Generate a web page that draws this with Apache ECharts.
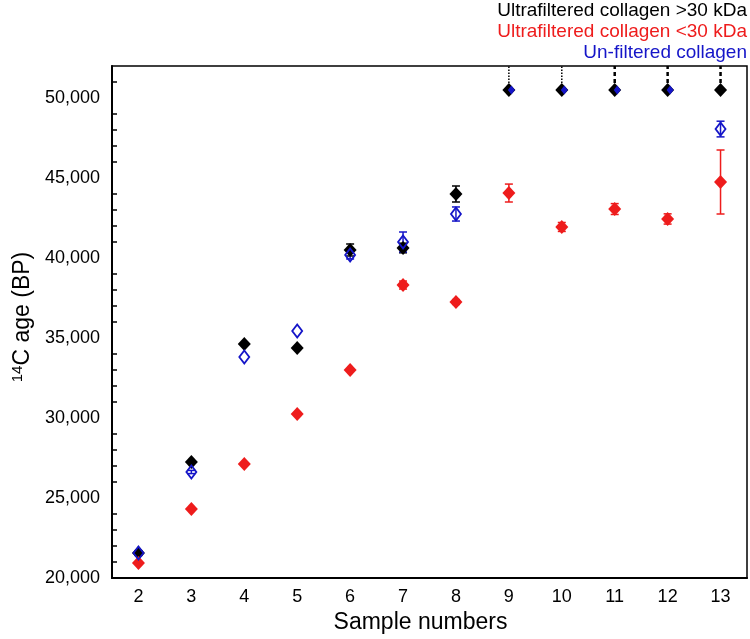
<!DOCTYPE html>
<html>
<head>
<meta charset="utf-8">
<script src="https://cdn.jsdelivr.net/npm/echarts@6/dist/echarts.min.js"></script>
<style>
  html, body { margin: 0; padding: 0; background: #fff; }
  #chart { width: 750px; height: 639px; }
</style>
</head>
<body>
<div id="chart"></div>
<script>
// sample numbers on the x axis
const samples = ["2", "3", "4", "5", "6", "7", "8", "9", "10", "11", "12", "13"];

// 14C ages (BP), null = no point
const over30 = [21560, 27250, 34625, 34375, 40500, 40625, 44000, null, null, null, null, null];
const over30Err = [0, 0, 0, 0, 375, 300, 500, 0, 0, 0, 0, 0];
const under30 = [20940, 24310, 27125, 30250, 33000, 38310, 37250, 44060, 41940, 43060, 42440, 44750];
const under30Err = [0, 0, 0, 0, 0, 250, 150, 560, 280, 340, 320, 2000];
const unfiltered = [21560, 26625, 33812, 35440, 40190, 41000, 42750, null, null, null, null, 48060];
const unfilteredErr = [150, 100, 0, 0, 250, 625, 440, 0, 0, 0, 0, 490];

// samples beyond the dating limit (drawn at the limit with a line up)
const limitAge = 50500;
const over30Limit = ["9", "10", "11", "12", "13"];
const unfilteredLimit = ["9", "10", "11", "12"];
const limitDotted = ["9", "10"];
const limitDashed = ["11", "12", "13"];

const yTicks = { min: 20000, max: 52000, step: 5000 };

const BLACK = "#000000";
const RED = "#ee1c1c";
const BLUE = "#1515c8";
const FONT = "Arial, 'Liberation Sans', sans-serif";

const chart = echarts.init(document.getElementById("chart"));

const points = vals => samples.map((s, i) => [s, vals[i]]).filter(d => d[1] != null);
const bars = (vals, errs) =>
  samples
    .map((s, i) => [s, vals[i] - errs[i], vals[i] + errs[i]])
    .filter((d, i) => vals[i] != null && errs[i] > 0);

// vertical error bar with caps
const errorBar = (params, api) => {
  const x = api.value(0);
  const lo = api.coord([x, api.value(1)]);
  const hi = api.coord([x, api.value(2)]);
  const w = 4;
  const style = { stroke: api.visual("color"), lineWidth: 1.5 };
  return {
    type: "group",
    children: [
      { type: "line", shape: { x1: hi[0] - w, y1: hi[1], x2: hi[0] + w, y2: hi[1] }, style },
      { type: "line", shape: { x1: hi[0], y1: hi[1], x2: lo[0], y2: lo[1] }, style },
      { type: "line", shape: { x1: lo[0] - w, y1: lo[1], x2: lo[0] + w, y2: lo[1] }, style }
    ]
  };
};

// line from a limit marker up to the top of the plot
const limitLine = (dash, width) => (params, api) => {
  const p = api.coord([api.value(0), api.value(1)]);
  return {
    type: "line",
    shape: { x1: p[0], y1: p[1] - 7, x2: p[0], y2: params.coordSys.y },
    style: { stroke: BLACK, lineWidth: width, lineDash: dash }
  };
};

chart.setOption({
  animation: false,
  grid: {
    left: 112,
    right: 3,
    top: 66,
    bottom: 61,
    outerBoundsMode: "none",
    show: true,
    borderColor: BLACK,
    borderWidth: 1.5
  },
  xAxis: {
    type: "category",
    data: samples,
    boundaryGap: true,
    name: "Sample numbers",
    nameLocation: "middle",
    nameGap: 30,
    nameTextStyle: { fontSize: 23, color: BLACK, fontFamily: FONT, padding: [0, 18, 0, 0] },
    axisLine: { lineStyle: { color: BLACK, width: 2 } },
    axisTick: { inside: true, alignWithLabel: true, length: 8, lineStyle: { color: BLACK, width: 2 } },
    axisLabel: { fontSize: 18, color: BLACK, fontFamily: FONT, margin: 10 },
    splitLine: { show: false }
  },
  yAxis: {
    type: "value",
    min: yTicks.min,
    max: yTicks.max,
    interval: yTicks.step,
    name: "{sup|14}C age (BP)",
    nameLocation: "middle",
    nameGap: 77,
    nameTextStyle: {
      fontSize: 23,
      color: BLACK,
      fontFamily: FONT,
      padding: [0, 0, 0, 10],
      rich: {
        sup: { fontSize: 15, fontFamily: FONT, color: BLACK, padding: [0, 0, 10, 0] }
      }
    },
    axisLine: { show: true, lineStyle: { color: BLACK, width: 2 } },
    axisTick: { inside: true, length: 9, lineStyle: { color: BLACK, width: 2 } },
    minorTick: { show: true, splitNumber: 5, length: 5, lineStyle: { color: BLACK, width: 1.5 } },
    axisLabel: {
      fontSize: 18,
      color: BLACK,
      fontFamily: FONT,
      margin: 12,
      showMaxLabel: false,
      formatter: v => v.toLocaleString("en-US")
    },
    splitLine: { show: false }
  },
  graphic: [
    { type: "text", right: 3, top: 1, style: { text: "Ultrafiltered collagen >30 kDa", fill: BLACK, font: "19px " + FONT } },
    { type: "text", right: 3, top: 22, style: { text: "Ultrafiltered collagen <30 kDa", fill: RED, font: "19px " + FONT } },
    { type: "text", right: 3, top: 43, style: { text: "Un-filtered collagen", fill: BLUE, font: "19px " + FONT } }
  ],
  series: [
    { type: "custom", renderItem: limitLine([1.5, 1.5], 1.5), data: limitDotted.map(s => [s, limitAge]), encode: { x: 0, y: 1 }, z: 1 },
    { type: "custom", renderItem: limitLine([4, 3], 2.5), data: limitDashed.map(s => [s, limitAge]), encode: { x: 0, y: 1 }, z: 1 },
    { type: "custom", renderItem: errorBar, itemStyle: { color: BLACK }, data: bars(over30, over30Err), encode: { x: 0, y: [1, 2] }, z: 2 },
    { type: "custom", renderItem: errorBar, itemStyle: { color: RED }, data: bars(under30, under30Err), encode: { x: 0, y: [1, 2] }, z: 2 },
    { type: "custom", renderItem: errorBar, itemStyle: { color: BLUE }, data: bars(unfiltered, unfilteredErr), encode: { x: 0, y: [1, 2] }, z: 2 },
    {
      name: "Ultrafiltered collagen >30 kDa",
      type: "scatter",
      symbol: "diamond",
      symbolSize: [13, 14],
      itemStyle: { color: BLACK, opacity: 1 },
      data: points(over30).concat(over30Limit.map(s => [s, limitAge])),
      z: 3
    },
    {
      name: "Un-filtered collagen limit",
      type: "scatter",
      symbol: "diamond",
      symbolSize: [7, 9],
      symbolOffset: [2.5, 0],
      itemStyle: { color: BLUE, opacity: 1 },
      data: unfilteredLimit.map(s => [s, limitAge]),
      z: 4
    },
    {
      name: "Ultrafiltered collagen <30 kDa",
      type: "scatter",
      symbol: "diamond",
      symbolSize: [13, 14],
      itemStyle: { color: RED, opacity: 1 },
      data: points(under30),
      z: 3
    },
    {
      name: "Un-filtered collagen",
      type: "scatter",
      symbol: "diamond",
      symbolSize: [10, 13],
      itemStyle: { color: "rgba(0,0,0,0)", borderColor: BLUE, borderWidth: 1.8, opacity: 1 },
      data: points(unfiltered),
      z: 4
    }
  ]
});
</script>
</body>
</html>
